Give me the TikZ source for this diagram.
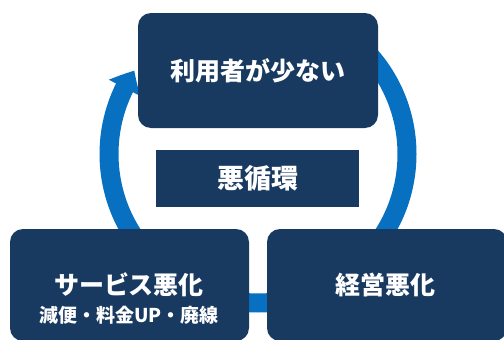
\documentclass[tikz,border=0pt]{standalone}
\usepackage{fontspec}
\newfontfamily\jp{Noto Sans CJK JP}
\usetikzlibrary{arrows.meta,bending}
\definecolor{navy}{RGB}{24,58,97}
\definecolor{cycleblue}{RGB}{8,112,192}
\tikzset{
  box/.style={fill=navy, rounded corners=13pt, text=white, font=\jp\bfseries\fontsize{25}{30}\selectfont, inner sep=0pt, align=center},
  label/.style={fill=navy, text=white, font=\jp\bfseries\fontsize{27}{32}\selectfont, inner sep=0pt},
  cyclearrow/.style={draw=cycleblue, line width=19pt, -{Triangle[width=34pt,length=20pt,bend]}}
}
\begin{document}
\begin{tikzpicture}[x=1pt,y=-1pt]
  \useasboundingbox (0,0) rectangle (504,340);
  \clip (0,0) rectangle (504,340);
  \coordinate (c) at (258,154);
  \draw[cyclearrow] (c) ++(-45:149) arc[start angle=-45, end angle=214, radius=149];
  \node[box, minimum width=240pt, minimum height=115pt] (top) at (258,70.5) {利用者が少ない};
  \node[label, minimum width=203pt, minimum height=57pt] (mid) at (257.5,178.5) {悪循環};
  \node[box, minimum width=239pt, minimum height=112pt] (bl) at (129.5,285) {};
  \node[box, minimum width=240pt, minimum height=112pt] (br) at (387,285) {};
  \node[text=white, font=\jp\bfseries\fontsize{25}{30}\selectfont] (blt) at (129,285) {サービス悪化};
  \node[text=white, font=\jp\bfseries\fontsize{19}{22}\selectfont] (bls) at (129,315) {減便・料金UP・廃線};
  \node[text=white, font=\jp\bfseries\fontsize{25}{30}\selectfont] (brt) at (385,285) {経営悪化};
\end{tikzpicture}
\end{document}
